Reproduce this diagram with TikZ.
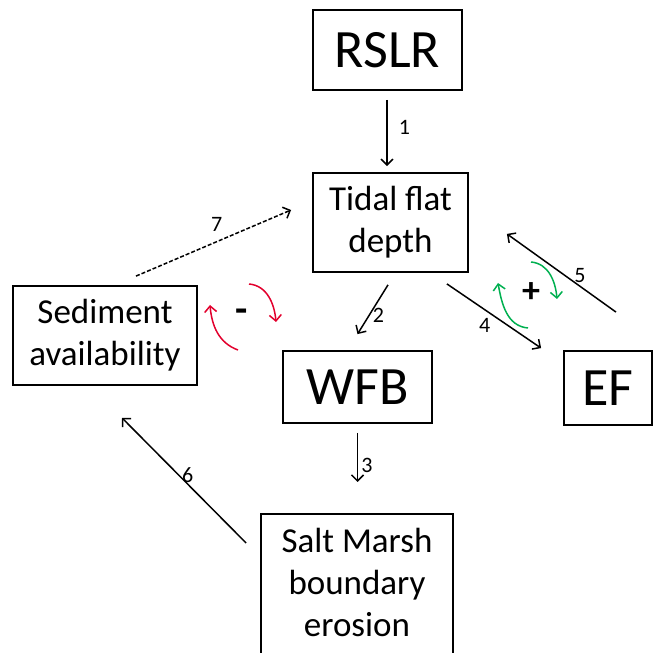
\documentclass[tikz,border=0pt]{standalone}
\usepackage{fontspec}
\setmainfont{Carlito}
\usetikzlibrary{arrows.meta}
\definecolor{fbred}{RGB}{226,0,45}
\definecolor{fbgreen}{RGB}{0,176,80}
\begin{document}
\begin{tikzpicture}[x=1pt,y=1pt,>={Straight Barb[length=6pt,width=12pt]},line width=1.5pt,
        box/.style={draw,line width=1.8pt,align=center,inner sep=2pt},
        big/.style={font=\fontsize{54}{60}\selectfont},
        mid/.style={font=\fontsize{35}{42}\selectfont},
        num/.style={font=\fontsize{22}{26}\selectfont,inner sep=1pt},
        loop/.style={->,line width=1.5pt}]
    \useasboundingbox (0,0) rectangle (653,653);
    \clip (0,0) rectangle (653,653);
    \node [box,big,minimum width=149,minimum height=80] (RSLR) at (387.5,603) {RSLR};
    \node [box,mid,minimum width=155,minimum height=99] (Depth) at (390.5,430.5) {Tidal flat\\depth};
    \node [box,mid,minimum width=184,minimum height=99] (Sediment) at (105,317.5) {Sediment\\availability};
    \node [box,big,minimum width=149,minimum height=72] (WFB) at (357.5,266) {WFB};
    \node [box,big,minimum width=88,minimum height=74] (EF) at (608,265) {EF};
    \node [box,minimum width=192,minimum height=170,anchor=north] (Marsh) at (357,140) {};
    \node [mid,align=center,anchor=north] (MarshText) at ([yshift=-11]Marsh.north)
        {Salt Marsh\\boundary\\erosion};
    % links
    \draw [->,shorten <=9pt,shorten >=6pt] ([xshift=-0.5]RSLR.south) -- ([xshift=-0.5]RSLR.south |- Depth.north)
        node [num,pos=0.45,right=10pt] {1};
    \draw [->] ([xshift=-2.5,yshift=-12]Depth.south) -- ([yshift=16]WFB.north)
        node [num,pos=0.62,right=2pt] {2};
    \draw [->,shorten <=9pt,shorten >=31pt] (WFB.south) -- (WFB.south |- Marsh.north)
        node [num,pos=0.47,right=2pt] {3};
    \draw [->] ([xshift=-22,yshift=-11]Depth.south east) -- ([xshift=-22,yshift=2]EF.north west)
        node [num,pos=0.4,below=7pt] {4};
    \draw [->] ([xshift=8,yshift=38]EF.north) -- ([xshift=38,yshift=39]Depth.south east)
        node [num,pos=0.33,above=2pt] {5};
    \draw [->] ([xshift=-14,yshift=-30]Marsh.north west) -- ([xshift=17,yshift=-32]Sediment.south)
        node [num,pos=0.47,above] {6};
    \draw [->,dashed,dash pattern=on 4pt off 2pt] ([xshift=31,yshift=9]Sediment.north) -- ([xshift=-21,yshift=12.5]Depth.west)
        node [num,pos=0.52,above=8pt] {7};
    % feedback loops
    \draw [loop,fbred] (238,303) to [out=160,in=-85] (210,348);
    \draw [loop,fbred] (249,369) to [out=-5,in=95] (276,331);
    \node [font=\fontsize{40}{40}\selectfont\bfseries] (Minus) at (242,337) {-};
    \draw [loop,fbgreen] (528,325) to [out=175,in=-80] (498,370);
    \draw [loop,fbgreen] (531,391) to [out=-5,in=95] (557,354);
    \node [font=\fontsize{36}{36}\selectfont\bfseries] (Plus) at (531,360) {+};
\end{tikzpicture}
\end{document}
